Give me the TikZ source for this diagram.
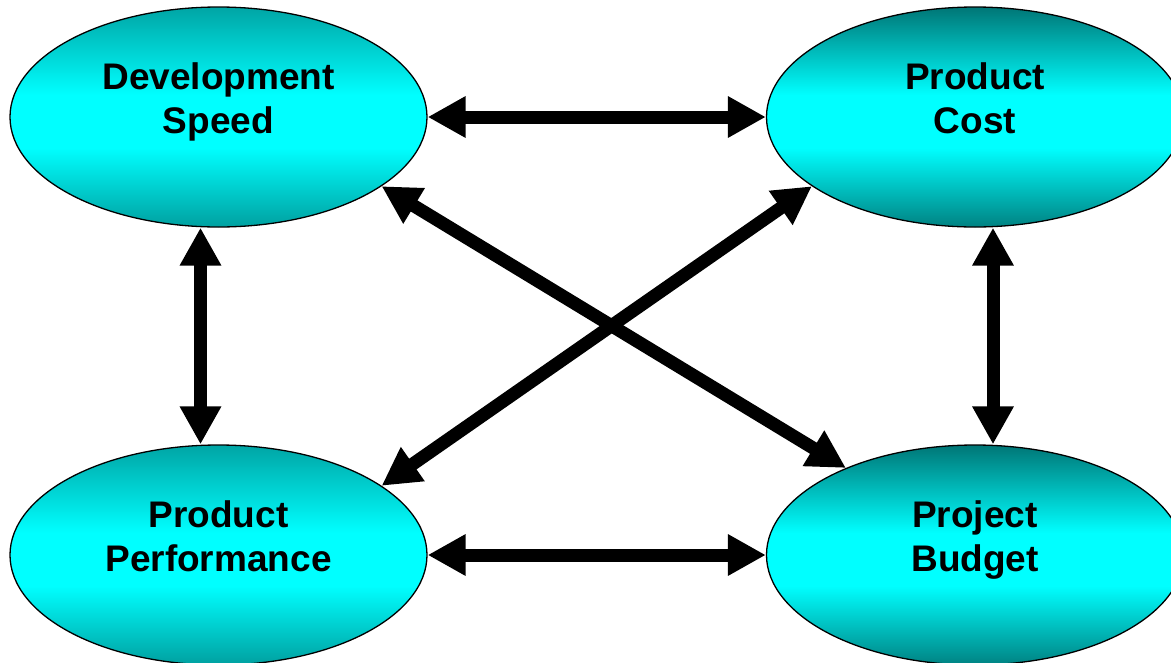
\documentclass[tikz,border=0pt]{standalone}
\usepackage{fontspec}
\setmainfont{Liberation Sans}
\usetikzlibrary{shapes.geometric,arrows.meta}

\definecolor{lefttop}{RGB}{0,165,165}
\definecolor{leftbot}{RGB}{0,160,160}
\definecolor{righttop}{RGB}{0,118,118}
\definecolor{rightbot}{RGB}{0,130,130}
\definecolor{glow}{RGB}{0,255,255}

% bands of colour from bottom (0bp) to top (100bp); the path fills 25bp..75bp
\pgfdeclareverticalshading{leftoval}{100bp}{color(0bp)=(leftbot); color(25bp)=(leftbot);
  color(43bp)=(glow); color(55bp)=(glow); color(75bp)=(lefttop); color(100bp)=(lefttop)}
\pgfdeclareverticalshading{rightoval}{100bp}{color(0bp)=(rightbot); color(25bp)=(rightbot);
  color(43bp)=(glow); color(55bp)=(glow); color(75bp)=(righttop); color(100bp)=(righttop)}

% two centred lines, set a little above the middle of the oval
\newcommand{\ovaltext}[2]{\raisebox{14pt}[\height][\depth]{%
  \begin{tabular}{@{}c@{}}#1\\#2\end{tabular}}}

\tikzset{
  oval/.style={ellipse, draw=black, line width=1.3pt, inner sep=0pt,
    minimum width=417pt, minimum height=220pt,
    font=\fontsize{37}{44}\selectfont\bfseries},
  leftoval/.style={oval, shading=leftoval},
  rightoval/.style={oval, shading=rightoval},
  biarrow/.style={line width=13pt,
    {Triangle[width=39pt,length=38pt]}-{Triangle[width=39pt,length=38pt]}}
}

\begin{document}
\begin{tikzpicture}[x=1pt,y=-1pt]
\useasboundingbox (0,0) rectangle (1171,662);
\clip (0,0) rectangle (1171,662);

\node[leftoval]  (dev)    at (218.5,117) {\ovaltext{Development}{Speed}};
\node[rightoval] (cost)   at (975,117)   {\ovaltext{Product}{Cost}};
\node[leftoval]  (perf)   at (218.5,555) {\ovaltext{Product}{Performance}};
\node[rightoval] (budget) at (975,555)   {\ovaltext{Project}{Budget}};

\draw[biarrow] (dev.east) -- (cost.west);
\draw[biarrow] (perf.east) -- (budget.west);
\draw[biarrow] ([xshift=-18pt]dev.south) -- ([xshift=-18pt]perf.north);
\draw[biarrow] ([xshift=18pt]cost.south) -- ([xshift=18pt]budget.north);
\draw[biarrow] (dev.337) -- (budget.146.8);
\draw[biarrow] (cost.203) -- (perf.23);
\end{tikzpicture}
\end{document}
